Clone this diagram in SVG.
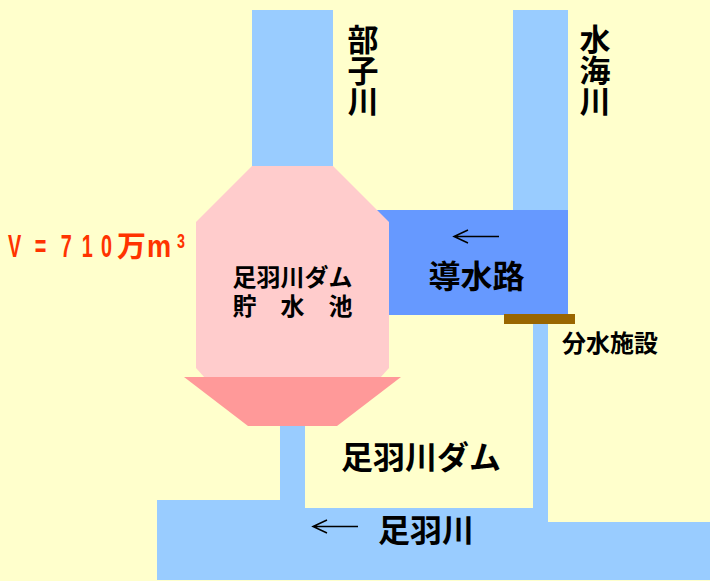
<svg xmlns="http://www.w3.org/2000/svg" width="710" height="581" viewBox="0 0 710 581">
<style>
text{font-family:"Noto Sans CJK JP","Noto Sans CJK SC",sans-serif;font-weight:700;fill:#000;text-anchor:middle}
.water{fill:#99CCFF}
.arrow{fill:none;stroke:#000;stroke-width:1.5}
.vert{writing-mode:vertical-rl;text-anchor:start;font-size:31px}
.vol{fill:#FF3300;text-anchor:start;font-family:"Liberation Sans",sans-serif}
</style>
<rect width="710" height="581" fill="#FFFFCC"/>
<g id="river-bube"><rect class="water" x="252" y="10" width="81" height="157"/></g>
<g id="river-minami"><rect class="water" x="513" y="10" width="55" height="201"/></g>
<g id="river-ashiba"><path class="water" d="M157 500H280V426H305V508H533V320H548V522H710V580H157Z"/></g>
<g id="channel"><path fill="#6699FF" d="M377 210H568V315H385Z"/></g>
<g id="reservoir"><path fill="#FFCCCC" d="M252 166H333L389 222V368L380 378H205L196 368V222Z"/></g>
<g id="dam"><path fill="#FF9999" d="M184 377H401L337 426H248Z"/></g>
<g id="diversion"><rect x="504" y="314" width="71" height="10" fill="#996600"/></g>
<g id="connectors">
<path class="arrow" d="M499 236.500H454M468 230L454 236.500L468 243"/>
<path class="arrow" d="M358 526.500H313M327 520L313 526.500L327 533"/>
</g>
<g id="labels">
<text class="vert" x="363" y="24">部子川</text>
<text class="vert" x="595" y="24">水海川</text>
<text font-size="24" xml:space="preserve"><tspan x="292.500" y="286">足羽川ダム</tspan><tspan x="292.500" y="315">貯　水　池</tspan></text>
<text x="476.500" y="288" font-size="32">導水路</text>
<text x="610" y="352" font-size="24">分水施設</text>
<text x="421" y="469" font-size="32">足羽川ダム</text>
<text x="426" y="542" font-size="32">足羽川</text>
<text class="vol" font-size="32" transform="translate(8 257) scale(.62 1)" xml:space="preserve" x="0 21 43 64 85 119 150">V = 710</text>
<text font-size="29" x="131.500" y="257" style="fill:#FF3300">万</text>
<text class="vol" font-size="32" transform="translate(147 257) scale(.85 1)">m</text>
<text class="vol" font-size="21" transform="translate(177 248) scale(.68 1)">3</text>
</g>
</svg>
